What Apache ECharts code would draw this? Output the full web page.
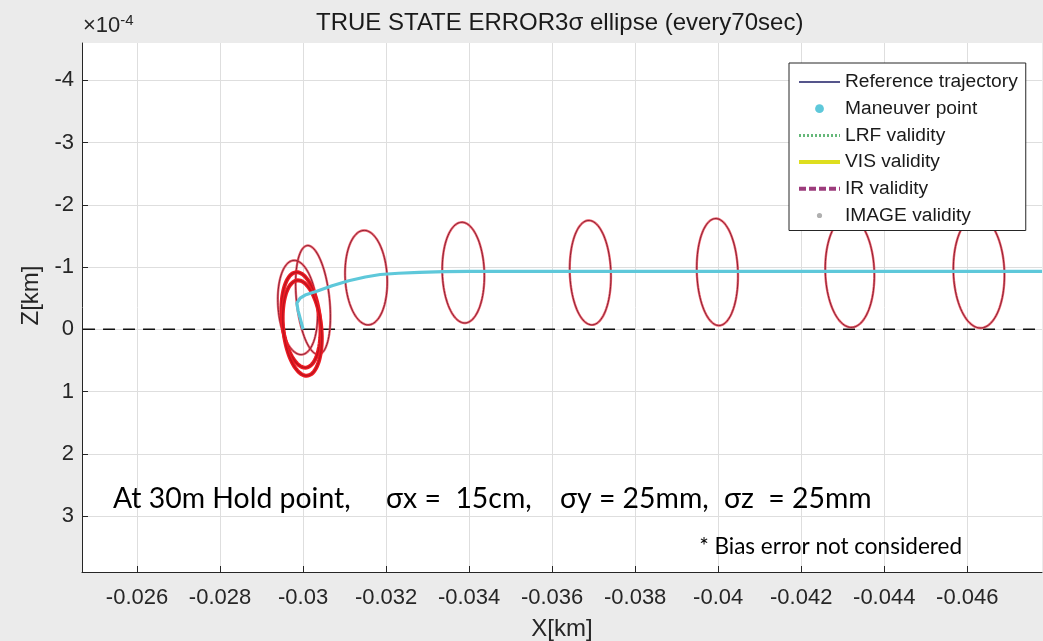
<!DOCTYPE html>
<html>
<head>
<meta charset="utf-8">
<script src="https://cdn.jsdelivr.net/npm/echarts@6/dist/echarts.min.js"></script>
<style>
html,body{margin:0;padding:0;background:#ebebeb;}
#chart{width:1043px;height:641px;}
</style>
</head>
<body>
<div id="chart"></div>
<script>
// ---------------- data (X in km, Z in units of 1e-4 km) ----------------
const trajX = [-0.0478, -0.0400, -0.0360, -0.0340, -0.0334, -0.0328, -0.03230, -0.03186, -0.03150, -0.03110, -0.03070, -0.03033, -0.03005, -0.02993, -0.02985, -0.02988, -0.02994, -0.03000];
const trajZ = [-0.93, -0.93, -0.93, -0.93, -0.925, -0.915, -0.90, -0.88, -0.84, -0.78, -0.70, -0.61, -0.55, -0.50, -0.42, -0.30, -0.15, 0.00];

const zeroLineX = [-0.0247, -0.0478];
const zeroLineZ = [0, 0];

// 3-sigma ellipses: centre X, centre Z, semi-axis X, semi-axis Z, tilt (deg)
const ellCX   = [-0.04628, -0.04317, -0.03998, -0.03692, -0.03386, -0.03152, -0.03024, -0.02987, -0.02995, -0.02998];
const ellCZ   = [-0.92, -0.92, -0.92, -0.91, -0.91, -0.83, -0.47, -0.35, -0.15, -0.02];
const ellSX   = [0.000614, 0.000590, 0.000495, 0.000495, 0.000506, 0.000506, 0.000398, 0.000470, 0.000458, 0.000458];
const ellSZ   = [0.90, 0.89, 0.86, 0.84, 0.81, 0.76, 0.88, 0.76, 0.77, 0.77];
const ellTilt = [-2, -2, -2, -2, -2, -3, -6, -5, -6, -6];

const legendNames = ['Reference trajectory', 'Maneuver point', 'LRF validity', 'VIS validity', 'IR validity', 'IMAGE validity'];
const lrfX = [], lrfZ = [], visX = [], visZ = [], irX = [], irZ = [], imgX = [], imgZ = [];

const titleText = 'TRUE STATE ERROR3σ ellipse (every70sec)';
const xName = 'X[km]';
const yName = 'Z[km]';
const note1 = ['At 30m Hold point,', 'σx =  15cm,', 'σy = 25mm,', 'σz  = 25mm'];
const note2 = '* Bias error not considered';

// ---------------- chart ----------------
const AX = '#262626';
const FONT = '"Liberation Sans", Arial, Helvetica, sans-serif';
const NOTEFONT = 'Lato, "Open Sans", "Liberation Sans Narrow", sans-serif';
const pairs = (xs, zs) => xs.map((x, i) => [x, zs[i]]);
const HEAVY_FROM = 8;

const chart = echarts.init(document.getElementById('chart'), null, {renderer: 'canvas'});
chart.setOption({
  animation: false,
  backgroundColor: '#ebebeb',
  title: {
    text: titleText,
    left: 316,
    top: 11,
    padding: 0,
    textStyle: {fontFamily: FONT, fontSize: 24, fontWeight: 'normal', color: '#1a1a1a'}
  },
  grid: {left: 82, top: 43, right: 1, bottom: 69, show: true, backgroundColor: '#ffffff', borderWidth: 0,
         containLabel: false, outerBoundsMode: 'none'},
  legend: {
    data: [
      {name: legendNames[0], itemStyle: {opacity: 0}, lineStyle: {width: 1.3, color: '#1c1c64'}},
      {name: legendNames[1], lineStyle: {opacity: 0}},
      {name: legendNames[2], itemStyle: {opacity: 0}, lineStyle: {width: 3, type: [2, 2]}},
      {name: legendNames[3], itemStyle: {opacity: 0}, lineStyle: {width: 4}},
      {name: legendNames[4], itemStyle: {opacity: 0}, lineStyle: {width: 4, type: [7, 3]}},
      {name: legendNames[5], lineStyle: {opacity: 0}, itemStyle: {color: '#b0b0b0', borderColor: '#ffffff', borderWidth: 3.6}}
    ],
    orient: 'vertical',
    left: 789, top: 63,
    padding: [9, 8, 5, 8],
    itemWidth: 41, itemHeight: 11, itemGap: 6.7,
    backgroundColor: '#ffffff',
    borderColor: AX, borderWidth: 1,
    selectedMode: false,
    textStyle: {fontFamily: FONT, fontSize: 19.2, lineHeight: 20, color: '#1a1a1a'}
  },
  xAxis: {
    type: 'value', inverse: true,
    min: -0.0478, max: -0.024675, splitNumber: 11,
    name: xName, nameLocation: 'middle', nameGap: 45,
    nameTextStyle: {fontFamily: FONT, fontSize: 24, color: AX},
    axisLine: {onZero: false, lineStyle: {color: AX, width: 1}},
    axisTick: {inside: true, length: 6, lineStyle: {color: AX}},
    axisLabel: {fontFamily: FONT, fontSize: 22, color: AX, margin: 15, showMinLabel: false, showMaxLabel: false},
    splitLine: {show: true, showMinLine: false, showMaxLine: false, lineStyle: {color: '#dedede', width: 1}}
  },
  yAxis: {
    type: 'value', inverse: true,
    min: -4.6, max: 3.9, splitNumber: 8,
    name: yName, nameLocation: 'middle', nameGap: 36,
    nameTextStyle: {fontFamily: FONT, fontSize: 24, color: AX, padding: [0, 0, 0, 24]},
    axisLine: {onZero: false, lineStyle: {color: AX, width: 1}},
    axisTick: {inside: true, length: 6, lineStyle: {color: AX}},
    axisLabel: {fontFamily: FONT, fontSize: 22, color: AX, margin: 8, showMinLabel: false, showMaxLabel: false},
    splitLine: {show: true, showMinLine: false, showMaxLine: false, lineStyle: {color: '#dedede', width: 1}}
  },
  graphic: [
    {type: 'text', left: 83, top: 13, z: 10, style: {
      text: '×10{s|-4}', fill: AX, font: '22px ' + FONT,
      rich: {s: {fontSize: 15, fontFamily: FONT, fill: AX, verticalAlign: 'top', padding: [0, 0, 10, 0]}}
    }},
    {type: 'text', x: 113, y: 499, z: 10, style: {text: note1[0], fill: '#000', font: '28.4px ' + NOTEFONT, verticalAlign: 'middle'}},
    {type: 'text', x: 386, y: 499, z: 10, style: {text: note1[1], fill: '#000', font: '28.4px ' + NOTEFONT, verticalAlign: 'middle'}},
    {type: 'text', x: 560, y: 499, z: 10, style: {text: note1[2], fill: '#000', font: '28.4px ' + NOTEFONT, verticalAlign: 'middle'}},
    {type: 'text', x: 724, y: 499, z: 10, style: {text: note1[3], fill: '#000', font: '28.4px ' + NOTEFONT, verticalAlign: 'middle'}},
    {type: 'text', x: 962, y: 547, z: 10, style: {text: note2, fill: '#000', font: '22.5px ' + NOTEFONT, verticalAlign: 'middle', align: 'right'}}
  ],
  series: [
    {
      name: 'zero', type: 'line', data: pairs(zeroLineX, zeroLineZ), silent: true,
      symbol: 'none', z: 1,
      lineStyle: {color: '#111111', width: 1.5, type: [12, 8]}
    },
    {
      name: 'ellipses', type: 'custom', silent: true, z: 2,
      data: ellCX.map((x, i) => [x, ellCZ[i], ellSX[i], ellSZ[i], ellTilt[i]]),
      encode: {x: 0, y: 1},
      renderItem: function (params, api) {
        const c = api.coord([api.value(0), api.value(1)]);
        const s = api.size([api.value(2), api.value(3)]);
        const phi = api.value(4) * Math.PI / 180;
        const pts = [];
        for (let k = 0; k <= 90; k++) {
          const t = k / 90 * 2 * Math.PI;
          const ex = s[0] * Math.cos(t), ey = s[1] * Math.sin(t);
          pts.push([c[0] + ex * Math.cos(phi) - ey * Math.sin(phi), c[1] + ex * Math.sin(phi) + ey * Math.cos(phi)]);
        }
        const heavy = params.dataIndex >= HEAVY_FROM;
        return {type: 'group', children: [
          {type: 'polyline', shape: {points: pts}, style: {stroke: heavy ? '#ee1c24' : '#e8404c', lineWidth: heavy ? 4 : 2.4, fill: null, opacity: heavy ? 1 : 0.8}},
          {type: 'polyline', shape: {points: pts}, style: {stroke: heavy ? '#c0141e' : '#8a1f34', lineWidth: heavy ? 1.5 : 1, fill: null}}
        ]};
      }
    },
    {
      name: legendNames[0], type: 'line', data: pairs(trajX, trajZ),
      symbol: 'none', z: 3, color: '#1c1c64',
      lineStyle: {color: '#1c1c64', width: 1}
    },
    {
      name: legendNames[1], type: 'line', data: pairs(trajX, trajZ),
      symbol: 'circle', showSymbol: false, z: 4, color: '#5ec8da',
      itemStyle: {color: '#5ec8da'},
      lineStyle: {color: '#5ec8da', width: 3.2}
    },
    {
      name: legendNames[2], type: 'line', data: pairs(lrfX, lrfZ), symbol: 'none', color: '#66b87a',
      lineStyle: {color: '#66b87a', width: 3, type: [2, 2]}
    },
    {
      name: legendNames[3], type: 'line', data: pairs(visX, visZ), symbol: 'none', color: '#dede1e',
      lineStyle: {color: '#dede1e', width: 4}
    },
    {
      name: legendNames[4], type: 'line', data: pairs(irX, irZ), symbol: 'none', color: '#9c3c7c',
      lineStyle: {color: '#9c3c7c', width: 4, type: [7, 3]}
    },
    {
      name: legendNames[5], type: 'line', data: pairs(imgX, imgZ), symbol: 'circle', showSymbol: false, color: '#b0b0b0',
      itemStyle: {color: '#b0b0b0'},
      lineStyle: {color: '#b0b0b0', width: 1}
    }
  ]
});
</script>
</body>
</html>
